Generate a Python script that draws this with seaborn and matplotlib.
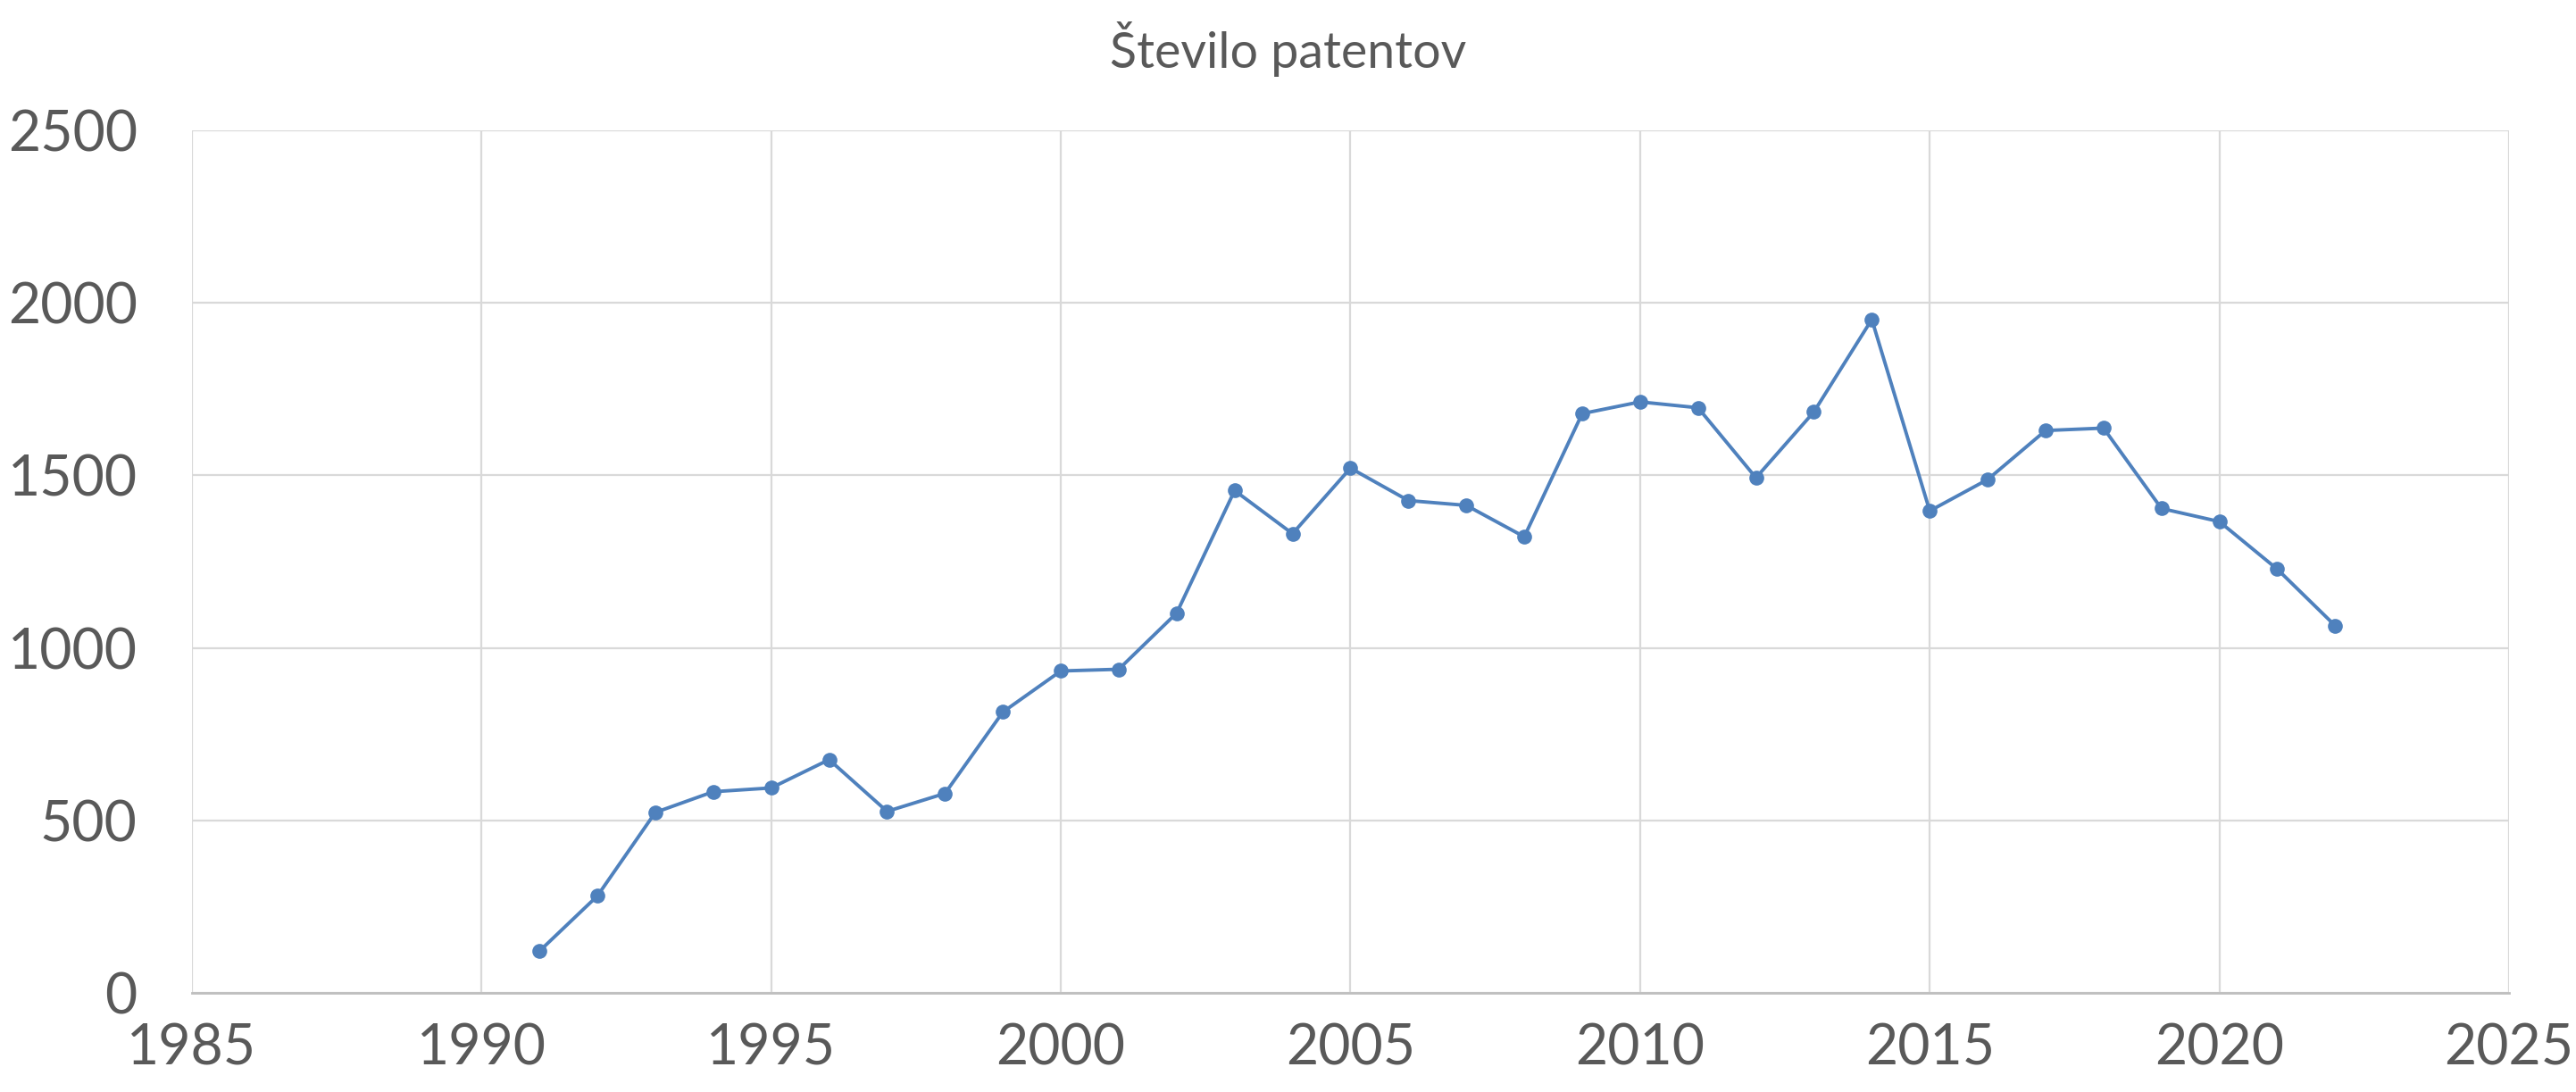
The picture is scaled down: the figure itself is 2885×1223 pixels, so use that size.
import pandas as pd
import numpy as np
import matplotlib
matplotlib.use("Agg")
import matplotlib.pyplot as plt
import seaborn as sns

leta = [1991, 1992, 1993, 1994, 1995, 1996, 1997, 1998, 1999, 2000, 2001,
        2002, 2003, 2004, 2005, 2006, 2007, 2008, 2009, 2010, 2011, 2012,
        2013, 2014, 2015, 2016, 2017, 2018, 2019, 2020, 2021, 2022]
patenti = [121, 281, 523, 583, 594, 676, 526, 578, 814, 933, 938,
           1101, 1456, 1331, 1521, 1427, 1413, 1322, 1679, 1713, 1696, 1493,
           1684, 1952, 1397, 1488, 1630, 1637, 1404, 1366, 1228, 1064]

df = pd.DataFrame({"leto": leta, "patenti": patenti})

sns.set_style("white")
plt.rcParams['font.family'] = ['Lato', 'DejaVu Sans']

fig = plt.figure(figsize=(14.425, 6.115), dpi=200)
ax = fig.add_axes([0.0745, 0.0908, 0.974 - 0.0745, 0.8806 - 0.0908])

sns.lineplot(data=df, x="leto", y="patenti", ax=ax, color="#4F81BD",
             marker="o", markersize=6, markeredgewidth=0, linewidth=1.4)

ax.set_xlim(1985, 2025)
ax.set_ylim(0, 2500)
ax.set_xticks(np.arange(1985, 2026, 5))
ax.set_yticks(np.arange(0, 2501, 500))
ax.grid(True, color="#D9D9D9", linewidth=0.8)
ax.set_axisbelow(True)

for s in ["top", "right", "left"]:
    ax.spines[s].set_visible(False)
ax.spines["bottom"].set_color("#BFBFBF")
ax.spines["bottom"].set_linewidth(1.0)

ax.tick_params(axis="both", length=0, labelsize=22.5, labelcolor="#595959")
ax.tick_params(axis="y", pad=22)
ax.tick_params(axis="x", pad=12)

ax.set_xlabel("")
ax.set_ylabel("")
fig.text(0.5, 0.955, "Število patentov", ha="center", va="center",
         fontsize=20, color="#595959")

fig.savefig("out.png", dpi=200)
